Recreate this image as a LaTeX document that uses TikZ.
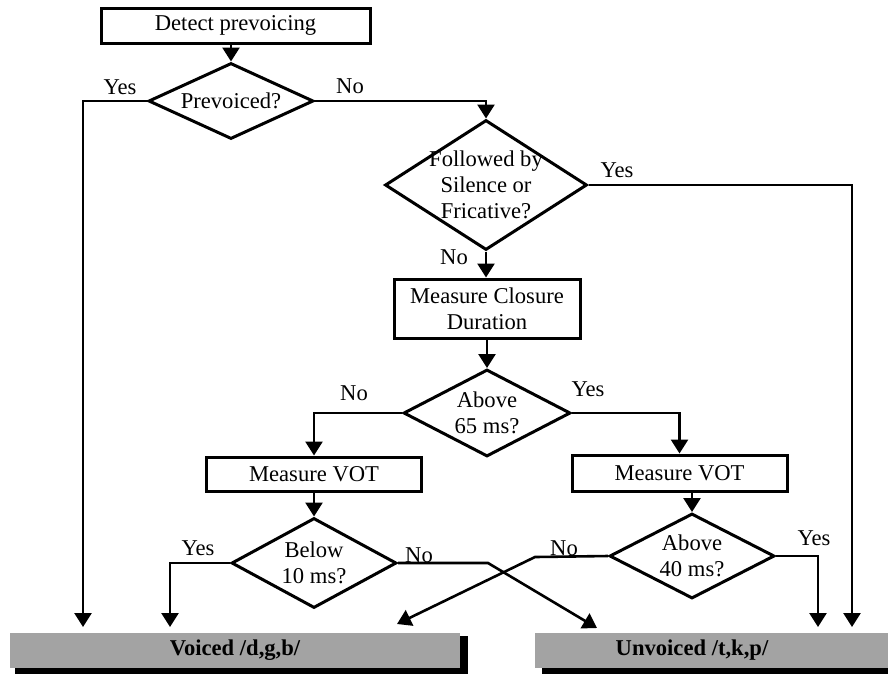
\documentclass[tikz,border=0pt]{standalone}
\usepackage{fontspec}
\setmainfont{Liberation Serif}
\usetikzlibrary{shapes.geometric,arrows.meta}
\begin{document}
\begin{tikzpicture}[x=1pt,y=-1pt,
  font=\fontsize{22.6}{26}\selectfont,
  box/.style={draw, line width=3pt, inner sep=0pt, align=center},
  dia/.style={draw, diamond, line width=3pt, inner sep=0pt},
  conn/.style={line width=2.6pt},
  arr/.style={conn, -{Triangle[length=14pt,width=17pt]}},
  lbl/.style={inner sep=0pt},
  outbox/.style={fill=black!36, inner sep=0pt, minimum height=35pt},
  shadowfill/.style={fill=black}
]
\useasboundingbox (0,0) rectangle (888,673);

% output boxes with drop shadows
\fill[shadowfill] (15,636) rectangle (468,680);
\node[outbox, minimum width=450pt] (voiced) at (235,650.5) {\bfseries Voiced /d,g,b/};
\fill[shadowfill] (542,640) rectangle (900,680);
\node[outbox, minimum width=365pt,
      label={[xshift=-25.5pt]center:\bfseries Unvoiced /t,k,p/}] (unvoiced) at (717.5,650.5) {};

% process boxes
\node[box, minimum width=269pt, minimum height=35pt] (detect) at (235.5,25.5) {Detect prevoicing};
\node[box, minimum width=186pt, minimum height=59pt] (closure) at (487,308.5) {Measure Closure\\Duration};
\node[box, minimum width=215pt, minimum height=34pt] (vot1) at (314,474) {Measure VOT};
\node[box, minimum width=215pt, minimum height=36pt] (vot2) at (679.5,473) {Measure VOT};

% decisions
\node[dia, minimum width=165pt, minimum height=76pt, label={center:Prevoiced?}] (prev) at (231,101) {};
\node[dia, minimum width=202pt, minimum height=130pt,
      label={[align=center]center:{Followed by\\Silence or\\Fricative?}}] (follow) at (486,185) {};
\node[dia, minimum width=167pt, minimum height=87pt,
      label={[align=center]center:{Above\\65 ms?}}] (above65) at (487,413) {};
\node[dia, minimum width=165pt, minimum height=90pt,
      label={[align=center]center:{Below\\10 ms?}}] (below10) at (314,563) {};
\node[dia, minimum width=165pt, minimum height=85pt,
      label={[align=center]center:{Above\\40 ms?}}] (above40) at (692,556) {};

% free ends and bends
\coordinate (v1) at (83,627);
\coordinate (v2) at (170,627);
\coordinate (v3) at (397,624);
\coordinate (u1) at (597,628);
\coordinate (u3) at (818,627);
\coordinate (u4) at (852,627);
\coordinate (b1) at (488,563);
\coordinate (a1) at (535,557);

% connectors
\draw[arr] (detect.south -| prev.north) -- (prev.north);
\draw[arr] (prev.west) -| (v1);
\draw[arr] (prev.east) -| (follow.north);
\draw[arr] (follow.east) -| (u4);
\draw[arr] (follow.south) -- (follow.south |- closure.north);
\draw[arr] (closure.south) -- (above65.north);
\draw[arr] (above65.west) -| (vot1.north);
\draw[arr] (above65.east) -| (vot2.north);
\draw[arr] (vot1.south) -- (below10.north);
\draw[arr] (vot2.south -| above40.north) -- (above40.north);
\draw[arr] (below10.west) -| (v2);
\draw[arr] (below10.east) -- (b1) -- (u1);
\draw[arr] (above40.west) -- (a1) -- (v3);
\draw[arr] (above40.east) -| (u3);

% branch labels
\node[lbl] (yes1) at (120,87) {Yes};
\node[lbl] (no1) at (350,86) {No};
\node[lbl] (yes2) at (617,170) {Yes};
\node[lbl] (no2) at (454,257) {No};
\node[lbl] (no3) at (354,393) {No};
\node[lbl] (yes3) at (588,389) {Yes};
\node[lbl] (yes4) at (198,548) {Yes};
\node[lbl] (no4) at (419,555) {No};
\node[lbl] (no5) at (564,548) {No};
\node[lbl] (yes5) at (814,538) {Yes};
\end{tikzpicture}
\end{document}
